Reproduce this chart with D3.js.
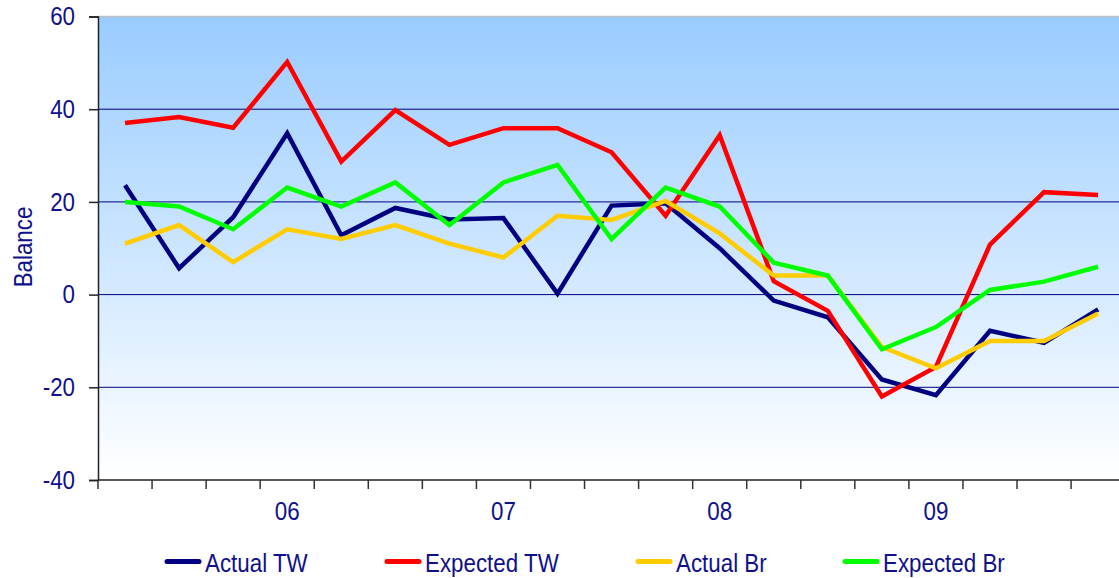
<!DOCTYPE html>
<html>
<head>
<meta charset="utf-8">
<script src="https://cdn.jsdelivr.net/npm/d3@7"></script>
<style>
  body { margin: 0; background: #fff; }
  text { font-family: "Liberation Sans", Arial, sans-serif; fill: #10108a; }
</style>
</head>
<body>
<script>
// quarters from 05Q2 to 09Q4
var quarters = ["05Q2","05Q3","05Q4","06Q1","06Q2","06Q3","06Q4","07Q1","07Q2","07Q3","07Q4",
                "08Q1","08Q2","08Q3","08Q4","09Q1","09Q2","09Q3","09Q4"];
var actualTW   = [23.6, 5.7, 16.7, 34.8, 12.8, 18.7, 16.2, 16.5, 0.2, 19.2, 19.7, 10, -1.3, -4.9, -18.3, -21.7, -7.8, -10.4, -3.2];
var expectedTW = [37, 38.3, 36, 50.2, 28.7, 39.8, 32.3, 35.9, 35.9, 30.7, 17, 34.4, 2.9, -3.5, -22, -15.6, 10.8, 22.1, 21.5];
var actualBr   = [11, 15, 7, 14.1, 12, 15, 11, 8, 17, 16.1, 20.2, 13.2, 4.1, 4.1, -11.3, -15.9, -10, -10, -4.1];
var expectedBr = [20, 19, 14.1, 23.1, 19, 24.2, 15, 24.2, 28, 12, 23.1, 19, 6.9, 4.1, -11.8, -7, 1, 2.8, 6];
var seriesNames = ["Actual TW", "Expected TW", "Actual Br", "Expected Br"];
var seriesColors = ["#000080", "#ff0000", "#ffcc00", "#00ff00"];
var yTicks = [-40, -20, 0, 20, 40, 60];

var w = 1119, h = 578;
var plotLeft = 98, plotTop = 16.5, plotBottom = 480;
var step = 54.06;
var squeeze = 0.86; // the original font is a bit condensed
var fs = "26px";

var svg = d3.select("body").append("svg")
    .attr("width", w)
    .attr("height", h);

var grad = svg.append("defs").append("linearGradient")
    .attr("id", "bg")
    .attr("x1", 0).attr("y1", 0).attr("x2", 0).attr("y2", 1);
grad.append("stop").attr("offset", "0%").attr("stop-color", "#99ccff");
grad.append("stop").attr("offset", "100%").attr("stop-color", "#ffffff");

var x = d3.scaleBand()
    .domain(quarters)
    .range([plotLeft, plotLeft + step * quarters.length])
    .padding(0);

var y = d3.scaleLinear()
    .domain([-40, 60])
    .range([plotBottom, plotTop]);

// plot background
svg.append("rect")
    .attr("x", plotLeft)
    .attr("y", plotTop)
    .attr("width", w - plotLeft)
    .attr("height", plotBottom - plotTop)
    .attr("fill", "url(#bg)");

// top border
svg.append("line")
    .attr("x1", plotLeft).attr("x2", w)
    .attr("y1", plotTop).attr("y2", plotTop)
    .attr("stroke", "#c0c0c0").attr("stroke-width", 1.5);

// gridlines
svg.selectAll(".grid")
    .data(yTicks.filter(function(d) { return d > -40 && d < 60; }))
    .enter()
    .append("line")
    .attr("x1", plotLeft).attr("x2", w)
    .attr("y1", function(d) { return y(d); })
    .attr("y2", function(d) { return y(d); })
    .attr("stroke", "#000080")
    .attr("stroke-width", 1);

// y axis
var yAxis = svg.append("g")
    .attr("transform", "translate(" + plotLeft + ",0)")
    .call(d3.axisLeft(y).tickValues(yTicks).tickSize(9)
        .tickFormat(function(d) { return String(d); })); // plain hyphen minus
yAxis.select(".domain").attr("stroke", "#222").attr("stroke-width", 1.5);
yAxis.selectAll(".tick line").attr("stroke", "#222").attr("stroke-width", 1.5);
yAxis.selectAll(".tick text")
    .attr("x", -23 / squeeze)
    .attr("transform", "scale(" + squeeze + ",1)")
    .attr("font-size", fs)
    .attr("fill", "#10108a")
    .attr("font-family", null);

// x axis line and ticks at quarter boundaries
svg.append("line")
    .attr("x1", plotLeft).attr("x2", w)
    .attr("y1", plotBottom).attr("y2", plotBottom)
    .attr("stroke", "#222").attr("stroke-width", 1.5);

svg.selectAll(".xtick")
    .data(quarters)
    .enter()
    .append("line")
    .attr("x1", function(d) { return x(d); })
    .attr("x2", function(d) { return x(d); })
    .attr("y1", plotBottom)
    .attr("y2", plotBottom + 9)
    .attr("stroke", "#333")
    .attr("stroke-width", 1.5);

// year labels on first quarters
svg.selectAll(".xlabel")
    .data(quarters.filter(function(d) { return d.slice(2) == "Q1"; }))
    .enter()
    .append("text")
    .attr("transform", function(d) {
        return "translate(" + (x(d) + x.bandwidth() / 2) + ",520) scale(" + squeeze + ",1)";
    })
    .attr("text-anchor", "middle")
    .attr("font-size", fs)
    .text(function(d) { return d.slice(0, 2); });

// y title
svg.append("text")
    .attr("transform", "translate(32,247) rotate(-90) scale(" + squeeze + ",1)")
    .attr("text-anchor", "middle")
    .attr("font-size", fs)
    .text("Balance");

// lines
var allSeries = [actualTW, expectedTW, actualBr, expectedBr];
var line = d3.line()
    .x(function(d, i) { return x(quarters[i]) + x.bandwidth() / 2; })
    .y(function(d) { return y(d); });

svg.selectAll(".series")
    .data(allSeries)
    .enter()
    .append("path")
    .attr("d", line)
    .attr("fill", "none")
    .attr("stroke", function(d, i) { return seriesColors[i]; })
    .attr("stroke-width", 4.5)
    .attr("stroke-linejoin", "miter");

// legend
var legendX = [167, 387, 638, 845];
var leg = svg.selectAll(".legend")
    .data(seriesNames)
    .enter()
    .append("g")
    .attr("transform", function(d, i) { return "translate(" + legendX[i] + ",561.5)"; });
leg.append("line")
    .attr("x1", 0).attr("x2", 32)
    .attr("stroke", function(d, i) { return seriesColors[i]; })
    .attr("stroke-width", 5)
    .attr("stroke-linecap", "round");
leg.append("text")
    .attr("transform", "translate(38,10) scale(" + squeeze + ",1)")
    .attr("font-size", fs)
    .text(function(d) { return d; });
</script>
</body>
</html>
